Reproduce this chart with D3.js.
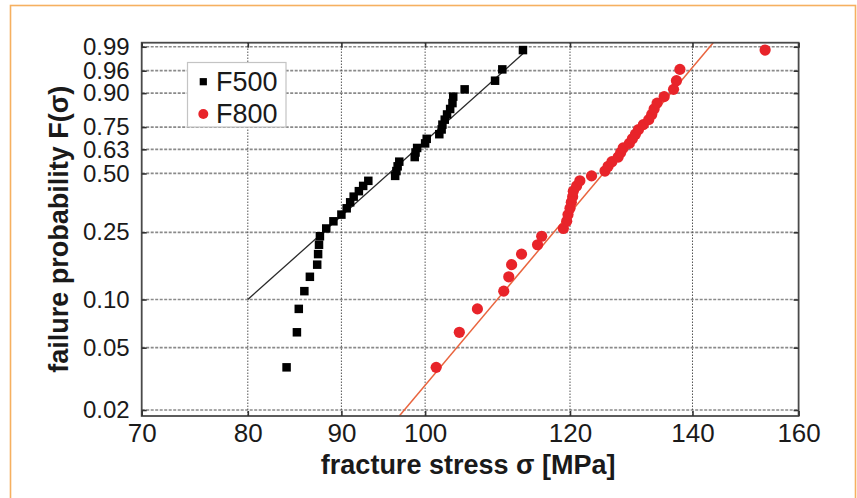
<!DOCTYPE html>
<html><head><meta charset="utf-8">
<script src="https://cdn.jsdelivr.net/npm/d3@7"></script>
<style>
body{margin:0;background:#fff}
svg{display:block}
text{font-family:"Liberation Sans", Arial, Helvetica, sans-serif;fill:#1a1a1a}
</style>
</head><body>
<svg id="chart" width="857" height="498"></svg>
<script>
// ---- data ----
const xTicks = [70, 80, 90, 100, 120, 140, 160];
const xTickLabels = ["70", "80", "90", "100", "120", "140", "160"];
const yTicks = [0.02, 0.05, 0.10, 0.25, 0.50, 0.63, 0.75, 0.90, 0.96, 0.99];
const yTickLabels = ["0.02", "0.05", "0.10", "0.25", "0.50", "0.63", "0.75", "0.90", "0.96", "0.99"];
const xLimits = [70, 160];
const yLimits = [0.0183, 0.9925];
const seriesNames = ["F500", "F800"];
const probabilities = [0.0375,0.0625,0.0875,0.1125,0.1375,0.1625,0.1875,0.2125,0.2375,0.2625,
  0.2875,0.3125,0.3375,0.3625,0.3875,0.4125,0.4375,0.4625,0.4875,0.5125,0.5375,0.5625,0.5875,
  0.6125,0.6375,0.6625,0.6875,0.7125,0.7375,0.7625,0.7875,0.8125,0.8375,0.8625,0.8875,0.9125,
  0.9375,0.9625,0.9875];
const f500Stress = [84.0,85.1,85.3,85.9,86.5,87.3,87.4,87.5,87.6,88.3,89.1,90.0,90.6,91.0,91.4,
  92.0,92.5,93.1,96.3,96.45,96.6,96.8,98.7,98.8,99.0,100.0,100.2,101.8,102.1,102.2,102.5,102.8,
  103.2,103.5,103.6,105.1,109.2,110.2,113.1];
const f800Stress = [101.4,104.4,106.8,110.4,111.1,111.5,112.9,115.2,115.8,119.0,119.5,119.7,120.0,
  120.2,120.4,120.5,121.0,121.5,123.3,125.4,125.9,126.5,127.5,127.9,128.3,129.3,129.8,130.3,130.8,
  131.6,132.5,133.0,133.4,133.9,135.1,136.7,137.2,137.8,153.4];
const f500Fit = [[80, 0.10], [113.4, 0.986]];
const f800Fit = [[96.8, 0.0183], [143.7, 0.9925]];

// ---- layout ----
const W = 857, H = 498;
const margin = {left: 141.7, right: 58.4, top: 42.7, bottom: 82};
const svg = d3.select("#chart");
const weib = p => Math.log(-Math.log(1 - p));

const x = d3.scaleLog().domain(xLimits).range([margin.left, W - margin.right]);
const y = d3.scaleLinear().domain(yLimits.map(weib)).range([H - margin.bottom, margin.top]);
const [x0, x1] = x.range();
const [y0, y1] = y.range();

// outer orange frame
svg.append("rect").attr("x", 10.5).attr("y", 5.5).attr("width", 845).attr("height", 500)
  .attr("fill", "none").attr("stroke", "#f6b060").attr("stroke-width", 1.6);

// grid
const g = svg.append("g");
g.selectAll(".hg").data(yTicks).join("line")
  .attr("x1", x0).attr("x2", x1)
  .attr("y1", d => y(weib(d))).attr("y2", d => y(weib(d)))
  .attr("stroke", "#8a8a8a").attr("stroke-width", 1.7).attr("stroke-dasharray", "3,1.5");
g.selectAll(".vg").data(xTicks.slice(1, -1)).join("line")
  .attr("y1", y0).attr("y2", y1)
  .attr("x1", d => x(d)).attr("x2", d => x(d))
  .attr("stroke", "#555").attr("stroke-width", 1).attr("stroke-dasharray", "1.5,1.5");

// fit lines
const line = d3.line().x(d => x(d[0])).y(d => y(weib(d[1])));
svg.append("path").attr("d", line(f500Fit)).attr("fill", "none")
  .attr("stroke", "#2a2a2a").attr("stroke-width", 1.3);
svg.append("path").attr("d", line(f800Fit)).attr("fill", "none")
  .attr("stroke", "#e9643e").attr("stroke-width", 1.5);

// points
const f500 = f500Stress.map((s, i) => [s, probabilities[i]]);
const f800 = f800Stress.map((s, i) => [s, probabilities[i]]);
const sq = 8.5;
svg.append("g").selectAll("rect").data(f500).join("rect")
  .attr("x", d => x(d[0]) - sq / 2).attr("y", d => y(weib(d[1])) - sq / 2)
  .attr("width", sq).attr("height", sq).attr("fill", "#000");
svg.append("g").selectAll("circle").data(f800).join("circle")
  .attr("cx", d => x(d[0])).attr("cy", d => y(weib(d[1]))).attr("r", 5.6)
  .attr("fill", "#e8242a");

// frame
svg.append("rect").attr("x", x0).attr("y", y1).attr("width", x1 - x0).attr("height", y0 - y1)
  .attr("fill", "none").attr("stroke", "#4a4a4a").attr("stroke-width", 1.8);

// axes
const yAxisL = d3.axisLeft(y).tickValues(yTicks.map(weib))
  .tickFormat((d, i) => yTickLabels[i]).tickSize(-5).tickPadding(12);
const yAxisR = d3.axisRight(y).tickValues(yTicks.map(weib)).tickFormat("").tickSize(-5);
const xAxisB = d3.axisBottom(x).tickValues(xTicks)
  .tickFormat((d, i) => xTickLabels[i]).tickSize(-5).tickPadding(8);
const xAxisT = d3.axisTop(x).tickValues(xTicks).tickFormat("").tickSize(-5);

function styleAxis(sel, fs) {
  sel.select(".domain").remove();
  sel.selectAll(".tick line").attr("stroke", "#333").attr("stroke-width", 1.6);
  sel.selectAll(".tick text").attr("font-size", fs).attr("fill", "#1a1a1a")
    .attr("font-family", '"Liberation Sans", Arial, sans-serif');
}
svg.append("g").attr("transform", `translate(${x0},0)`).call(yAxisL).call(s => styleAxis(s, 24));
svg.append("g").attr("transform", `translate(${x1},0)`).call(yAxisR).call(s => styleAxis(s, 24));
svg.append("g").attr("transform", `translate(0,${y0})`).call(xAxisB).call(s => styleAxis(s, 26));
svg.append("g").attr("transform", `translate(0,${y1})`).call(xAxisT).call(s => styleAxis(s, 26));

// axis titles
svg.append("text").attr("x", (x0 + x1) / 2 - 2).attr("y", 474)
  .attr("text-anchor", "middle").attr("font-weight", "bold").attr("font-size", 27)
  .text("fracture stress σ [MPa]");
svg.append("text").attr("transform", `translate(68,${(y0 + y1) / 2}) rotate(-90)`)
  .attr("text-anchor", "middle").attr("font-weight", "bold").attr("font-size", 27)
  .text("failure probability F(σ)");

// legend
const lg = svg.append("g");
lg.append("rect").attr("x", 187.5).attr("y", 62.5).attr("width", 98.5).attr("height", 64.5)
  .attr("fill", "#fff").attr("stroke", "#c4c4c4").attr("stroke-width", 1.2);
lg.append("rect").attr("x", 203.3 - 3.6).attr("y", 81.7 - 3.6).attr("width", 7.2).attr("height", 7.2)
  .attr("fill", "#000");
lg.append("circle").attr("cx", 203.3).attr("cy", 114).attr("r", 5).attr("fill", "#e8242a");
lg.selectAll("text").data(seriesNames).join("text")
  .attr("x", 216).attr("y", (d, i) => i === 0 ? 81.7 : 113.7).attr("dy", "0.36em")
  .attr("font-size", 27).text(d => d);
</script>
</body></html>
